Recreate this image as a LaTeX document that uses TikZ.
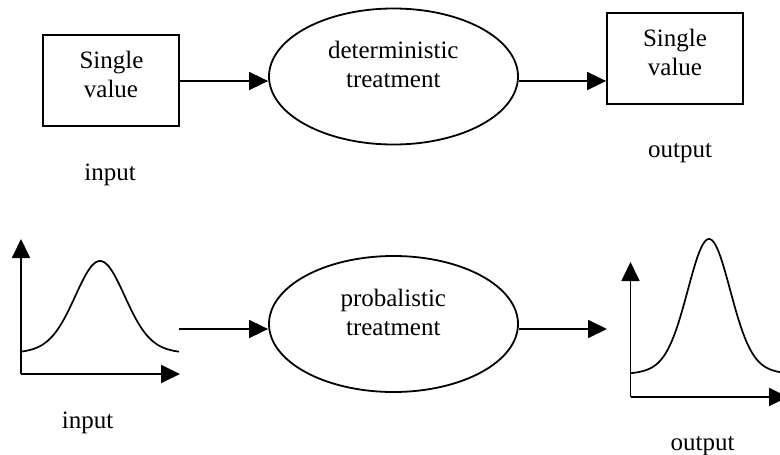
\documentclass[tikz,border=0pt]{standalone}
\usepackage{fontspec}
\setmainfont{Liberation Serif}
\usetikzlibrary{arrows.meta,shapes.geometric}
\begin{document}
\begin{tikzpicture}[x=1pt,y=-1pt,
  line width=1.8pt,
  txt/.style={anchor=base,inner sep=0pt,font=\fontsize{25}{29}\selectfont},
  valbox/.style={draw,rectangle,minimum width=136pt,minimum height=91pt,inner sep=0pt},
  treat/.style={draw,ellipse,minimum width=249pt,minimum height=136pt,inner sep=0pt},
  flow/.style={-{Triangle[length=19pt,width=18pt]}},
  axis/.style={-{Triangle[length=19pt,width=18pt]}},
  density/.style={line width=1.7pt}]
\useasboundingbox (0,0) rectangle (780,455);
\clip (0,0) rectangle (780,455);

% ---- deterministic chain ----
\node[valbox] (inbox) at (111,80.5) {};
\node[txt] (inS) at (111.5,68.3) {Single};
\node[txt] (inV) at (111,97.3) {value};
\node[txt] (inL) at (110,180) {input};

\node[treat] (det) at (393.5,76.5) {};
\node[txt] (detA) at (393.3,58) {deterministic};
\node[txt] (detB) at (393.3,87) {treatment};

\node[valbox] (outbox) at (675,58.5) {};
\node[txt] (outS) at (675,46.7) {Single};
\node[txt] (outV) at (675,75) {value};
\node[txt] (outL) at (680,157) {output};

\coordinate (topline) at (0,81);
\draw[flow] (inbox.east |- topline) -- (det.west |- topline);
\draw[flow] (det.east |- topline) -- (outbox.west |- topline);

% ---- probabilistic chain ----
\node[treat] (prob) at (393.5,324) {};
\node[txt] (probA) at (393.3,306.5) {probalistic};
\node[txt] (probB) at (393.3,335.5) {treatment};

% input distribution
\coordinate (inO) at (21,374);
\coordinate (inY) at (21,239);
\coordinate (inX) at (180,374);
\draw[axis] (inO) -- (inY);
\draw[axis] (inO) -- (inX);
\draw[density] plot[domain=21:179,samples=120,smooth]
  (\x,{356-95*(0.8*exp(-((\x-100)/35)^2)+0.2/(1+((\x-100)/40)^2))});
\node[txt] (inL2) at (87.5,428) {input};

% output distribution
\coordinate (outO) at (630.5,397);
\coordinate (outY) at (630.5,262);
\coordinate (outX) at (788,397);
\draw[axis] (outO) -- (outY);
\draw[axis] (outO) -- (outX);
\draw[density] plot[domain=630.5:785,samples=150,smooth]
  (\x,{378-139*(0.8*exp(-((\x-709)/30)^2)+0.2/(1+((\x-709)/35)^2))});
\node[txt] (outL2) at (702.5,450) {output};

\coordinate (botline) at (179,329);
\coordinate (outIn) at (607,329);
\draw[flow] (botline) -- (prob.west |- botline);
\draw[flow] (prob.east |- botline) -- (outIn);
\end{tikzpicture}
\end{document}
